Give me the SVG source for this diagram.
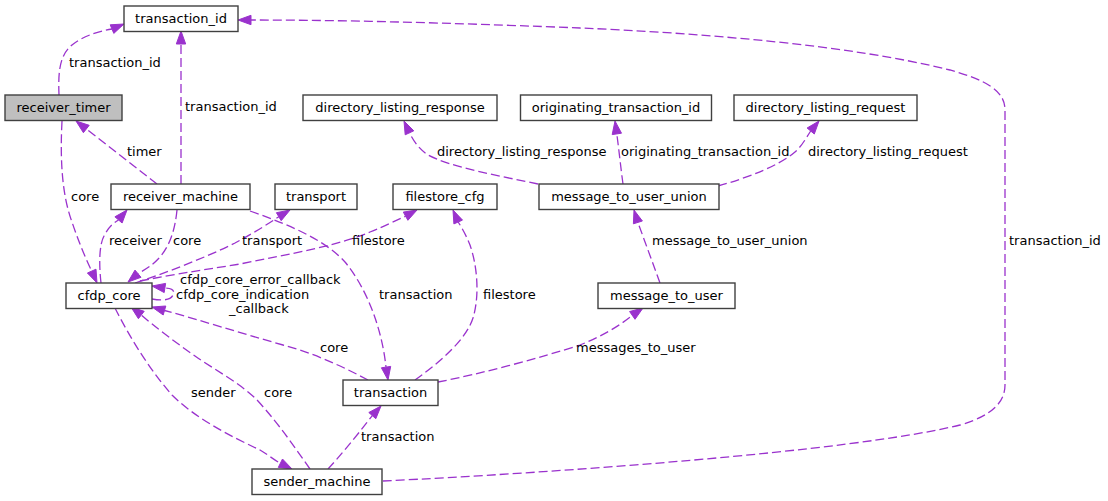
<svg xmlns="http://www.w3.org/2000/svg" width="1108" height="501" viewBox="0 0 1108 501">
<style>
.n rect{fill:#ffffff;stroke:#404040;stroke-width:1.4}
.n.hl rect{fill:#bfbfbf}
text{font-family:"DejaVu Sans","Liberation Sans",sans-serif;font-size:13px;fill:#000}
.n text{text-anchor:middle}
.e path{fill:none;stroke:#9a32cd;stroke-width:1.3;stroke-dasharray:9,4}
.e polygon{fill:#9a32cd;stroke:#9a32cd;stroke-width:1}
</style>
<rect width="1108" height="501" fill="#fff"/>
<g id="edges" class="e">
<!-- receiver_timer -> transaction_id -->
<path d="M59,95 C58,70 60,55 72,45 C82,37 95,32 112,29"/>
<polygon points="124,24 113.8,33.4 110.2,24.8"/>
<text x="69" y="67">transaction_id</text>
<!-- receiver_machine -> transaction_id -->
<path d="M181,184 L181,44"/>
<polygon points="181,31 176.3,44 185.7,44"/>
<text x="185" y="111">transaction_id</text>
<!-- receiver_machine -> receiver_timer -->
<path d="M157,184 L86.3,129"/>
<polygon points="76,121 89.2,125.3 83.4,132.7"/>
<text x="127" y="156">timer</text>
<!-- receiver_timer -> cfdp_core -->
<path d="M62,121 C60,160 62,195 72,222 C78,240 85,257 91.7,271"/>
<polygon points="97,283 96,269.2 87.4,273"/>
<text x="71" y="201">core</text>
<!-- cfdp_core -> receiver_machine -->
<path d="M101,283 C99,265 99,245 104,236 C108,228 113,223 118.5,220"/>
<polygon points="127,210 122.1,223 114.9,216.8"/>
<text x="109" y="245">receiver</text>
<!-- receiver_machine -> cfdp_core -->
<path d="M177,210 C175,230 170,245 160,257 C153,265 146,269 138,273.7"/>
<polygon points="128,282 141,277.3 135,270.1"/>
<text x="173" y="245">core</text>
<!-- cfdp_core -> transport -->
<path d="M135,283 C160,275 205,258 235,243 C250,235 265,226 278.8,216.7"/>
<polygon points="290,210 281.2,220.7 276.4,212.7"/>
<text x="242" y="245">transport</text>
<!-- cfdp_core -> filestore_cfg -->
<path d="M140,281 C180,273 210,269 240,264 C290,254 340,245 370,232 C385,226 395,221 405.6,216.2"/>
<polygon points="417,210 407.9,220.3 403.3,212.1"/>
<text x="352" y="245">filestore</text>
<!-- cfdp_core self loop -->
<path d="M152,299 C163,301 171,300 173,295 C175,290 172,288 164.9,288"/>
<polygon points="152,286 165.6,283.4 164.2,292.6"/>
<text x="180" y="284">cfdp_core_error_callback</text>
<text x="176" y="299">cfdp_core_indication</text>
<text x="229" y="313">_callback</text>
<!-- receiver_machine -> transaction -->
<path d="M250,211 C290,225 325,240 345,262 C368,290 382,330 386,367"/>
<polygon points="388,380 390.7,366.4 381.4,367.8"/>
<text x="379" y="299">transaction</text>
<!-- transaction -> filestore_cfg -->
<path d="M415,380 C440,362 466,340 473,318 C480,295 477,265 470,245 C466,235 462,228 458.2,222"/>
<polygon points="453,210 462.5,220.1 453.9,223.9"/>
<text x="483" y="299">filestore</text>
<!-- transaction -> message_to_user -->
<path d="M438,382 C480,374 540,358 580,345 C600,337 618,327 632.3,315.4"/>
<polygon points="643,308 635,319.3 629.6,311.5"/>
<text x="576" y="352">messages_to_user</text>
<!-- message_to_user -> message_to_user_union -->
<path d="M660,283 L637.9,222.4"/>
<polygon points="634,210 642.4,221 633.4,223.8"/>
<text x="652" y="245">message_to_user_union</text>
<!-- message_to_user_union -> directory_listing_response -->
<path d="M538,184 C500,176 450,167 428,155 C418,148 413,140 409.5,132.8"/>
<polygon points="404,121 413.8,130.8 405.2,134.8"/>
<text x="437" y="156">directory_listing_response</text>
<!-- message_to_user_union -> originating_transaction_id -->
<path d="M623,184 C621,170 619,150 616.8,133.9"/>
<polygon points="615,121 621.5,133.2 612.2,134.6"/>
<text x="621" y="156">originating_transaction_id</text>
<!-- message_to_user_union -> directory_listing_request -->
<path d="M718,186 C750,177 780,165 795,152 C802,146 806,138 810.7,131"/>
<polygon points="819,121 814.3,134 807.1,128"/>
<text x="808" y="156">directory_listing_request</text>
<!-- sender_machine -> transaction_id -->
<path d="M383,481 C550,473 850,452 960,425 C995,415 1005,400 1005,385 L1005,110 C1005,90 985,80 950,70 C850,45 700,33 580,28 C480,24 360,20 251,20"/>
<polygon points="238,20 251,15.3 251,24.7"/>
<text x="1009" y="245">transaction_id</text>
<!-- cfdp_core -> sender_machine -->
<path d="M115,308 C130,338 150,370 172,395 C195,418 230,436 260,450 C267,454 274,460 280.4,463.2"/>
<polygon points="292,469 282.5,459 278.3,467.4"/>
<text x="191" y="397">sender</text>
<!-- sender_machine -> cfdp_core -->
<path d="M310,469 C295,448 280,425 257,400 C240,383 215,370 195,356 C175,342 155,327 141.3,315"/>
<polygon points="131,307 144.2,311.3 138.4,318.7"/>
<text x="264" y="397">core</text>
<!-- transaction -> cfdp_core -->
<path d="M368,380 C340,365 310,352 283,345 C240,333 200,320 164.5,310.5"/>
<polygon points="152,307 165.8,306 163.2,315"/>
<text x="320" y="352">core</text>
<!-- sender_machine -> transaction -->
<path d="M328,469 C340,456 355,438 372.3,415.6"/>
<polygon points="381,406 375.8,418.7 368.8,412.5"/>
<text x="361" y="441">transaction</text>
</g>
<g id="node_transaction_id" class="n"><rect x="124" y="6" width="114" height="25.5"/><text x="181" y="23">transaction_id</text></g>
<g id="node_receiver_timer" class="n hl"><rect x="5" y="95" width="117" height="25.5"/><text x="63.5" y="112">receiver_timer</text></g>
<g id="node_directory_listing_response" class="n"><rect x="303" y="95" width="194" height="25.5"/><text x="400" y="112">directory_listing_response</text></g>
<g id="node_originating_transaction_id" class="n"><rect x="520.5" y="95" width="191" height="25.5"/><text x="616" y="112">originating_transaction_id</text></g>
<g id="node_directory_listing_request" class="n"><rect x="734" y="95" width="183" height="25.5"/><text x="825.5" y="112">directory_listing_request</text></g>
<g id="node_receiver_machine" class="n"><rect x="111" y="184" width="139" height="25.5"/><text x="180.5" y="201">receiver_machine</text></g>
<g id="node_transport" class="n"><rect x="275" y="184" width="82" height="25.5"/><text x="316" y="201">transport</text></g>
<g id="node_filestore_cfg" class="n"><rect x="393" y="184" width="104" height="25.5"/><text x="445" y="201">filestore_cfg</text></g>
<g id="node_message_to_user_union" class="n"><rect x="539" y="184" width="180" height="25.5"/><text x="629" y="201">message_to_user_union</text></g>
<g id="node_cfdp_core" class="n"><rect x="66" y="283" width="86" height="25.5"/><text x="109" y="300">cfdp_core</text></g>
<g id="node_message_to_user" class="n"><rect x="598" y="283" width="137" height="25.5"/><text x="666.5" y="300">message_to_user</text></g>
<g id="node_transaction" class="n"><rect x="343" y="380" width="95" height="25.5"/><text x="390.5" y="397">transaction</text></g>
<g id="node_sender_machine" class="n"><rect x="252" y="469" width="130" height="25.5"/><text x="317" y="486">sender_machine</text></g>
</svg>
